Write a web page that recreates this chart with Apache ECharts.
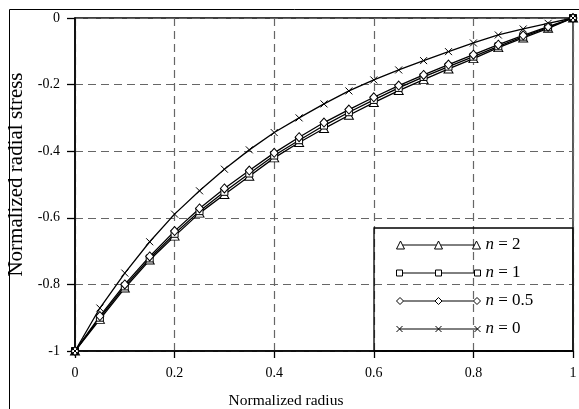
<!DOCTYPE html>
<html>
<head>
<meta charset="utf-8">
<script src="https://cdn.jsdelivr.net/npm/echarts@6/dist/echarts.min.js"></script>
<style>
html,body{margin:0;padding:0;background:#fff;}
#chart{width:579px;height:409px;}
</style>
</head>
<body>
<div id="chart"></div>
<script>
// Normalized radius (x)
var radius = [0, 0.05, 0.1, 0.15, 0.2, 0.25, 0.3, 0.35, 0.4, 0.45, 0.5, 0.55, 0.6, 0.65, 0.7, 0.75, 0.8, 0.85, 0.9, 0.95, 1];
// Normalized radial stress for each n
var stressN2  = [-1, -0.905, -0.811, -0.727, -0.655, -0.586, -0.530, -0.475, -0.420, -0.374, -0.332, -0.292, -0.254, -0.218, -0.185, -0.153, -0.122, -0.089, -0.060, -0.031, 0];
var stressN1  = [-1, -0.900, -0.806, -0.722, -0.648, -0.580, -0.522, -0.467, -0.413, -0.367, -0.323, -0.283, -0.246, -0.210, -0.177, -0.146, -0.116, -0.085, -0.056, -0.028, 0];
var stressN05 = [-1, -0.895, -0.800, -0.716, -0.640, -0.572, -0.512, -0.458, -0.405, -0.358, -0.314, -0.275, -0.238, -0.203, -0.171, -0.140, -0.110, -0.080, -0.052, -0.026, 0];
var stressN0  = [-1, -0.871, -0.766, -0.672, -0.589, -0.519, -0.454, -0.396, -0.344, -0.300, -0.258, -0.219, -0.186, -0.156, -0.128, -0.101, -0.075, -0.051, -0.033, -0.016, 0];
var seriesNames = ['n = 2', 'n = 1', 'n = 0.5', 'n = 0'];
var xTicks = [0, 0.2, 0.4, 0.6, 0.8, 1];
var yTicks = [-1, -0.8, -0.6, -0.4, -0.2, 0];

function pairs(ys) { return radius.map(function (x, i) { return [x, ys[i]]; }); }

var FONT = 'Liberation Serif';
var crossPath = 'path://M0,0L10,10M10,0L0,10';

// legend icons: line with three markers
function triIcon() {
  var cs = [4, 42, 80], p = '';
  cs.forEach(function (c) { p += 'M' + c + ',0.5L' + (c + 4) + ',8.5L' + (c - 4) + ',8.5Z'; });
  p += 'M' + (cs[0] + 2.3) + ',4.5L' + (cs[1] - 2.3) + ',4.5M' + (cs[1] + 2.3) + ',4.5L' + (cs[2] - 2.3) + ',4.5';
  return 'path://' + p;
}
function sqIcon() {
  var cs = [3, 42, 81], p = '';
  cs.forEach(function (c) { p += 'M' + (c - 3) + ',1.5L' + (c + 3) + ',1.5L' + (c + 3) + ',7.5L' + (c - 3) + ',7.5Z'; });
  p += 'M6,4.5L39,4.5M45,4.5L78,4.5';
  return 'path://' + p;
}
function diaIcon() {
  var cs = [3.5, 42, 80.5], p = '';
  cs.forEach(function (c) { p += 'M' + c + ',1L' + (c + 3.5) + ',4.5L' + c + ',8L' + (c - 3.5) + ',4.5Z'; });
  p += 'M7,4.5L38.5,4.5M45.5,4.5L77,4.5';
  return 'path://' + p;
}
function crossIcon() {
  var cs = [3, 42, 81], p = '';
  cs.forEach(function (c) { p += 'M' + (c - 3) + ',1.5L' + (c + 3) + ',7.5M' + (c + 3) + ',1.5L' + (c - 3) + ',7.5'; });
  p += 'M3,4.5L81,4.5';
  return 'path://' + p;
}

function mkSeries(name, data, symbol, size) {
  return {
    name: name,
    type: 'line',
    data: pairs(data),
    symbol: symbol,
    symbolSize: size,
    showAllSymbol: true,
    lineStyle: { color: '#000', width: 1.3 },
    itemStyle: { color: '#fff', borderColor: '#000', borderWidth: 1 },
    emphasis: { disabled: true },
    z: 3
  };
}

var chart = echarts.init(document.getElementById('chart'), null, { renderer: 'canvas' });
chart.setOption({
  animation: false,
  backgroundColor: '#fff',
  textStyle: { fontFamily: FONT },
  grid: { left: 75, right: 6, top: 18, bottom: 58, containLabel: false, outerBoundsMode: 'none',
    show: true, borderColor: '#000', borderWidth: 1.3, backgroundColor: 'transparent' },
  xAxis: {
    type: 'value', min: 0, max: 1, interval: 0.2,
    name: 'Normalized radius', nameLocation: 'middle', nameGap: 42,
    nameTextStyle: { fontFamily: FONT, fontSize: 15.5, color: '#000', padding: [0, 76, 0, 0] },
    axisLine: { show: true, onZero: false, lineStyle: { color: '#000', width: 1.6 } },
    axisTick: { show: true, inside: false, length: 7, lineStyle: { color: '#000', width: 1.3 } },
    axisLabel: { fontFamily: FONT, fontSize: 14, color: '#000', margin: 15,
      formatter: function (v) { return xTicks.indexOf(Math.round(v * 10) / 10) >= 0 ? String(Math.round(v * 10) / 10) : ''; } },
    splitLine: { show: true, lineStyle: { color: '#666', width: 1.2, type: [8, 5] } }
  },
  yAxis: {
    type: 'value', min: -1, max: 0, interval: 0.2,
    name: 'Normalized radial stress', nameLocation: 'middle', nameGap: 46, nameRotate: 90,
    nameTextStyle: { fontFamily: FONT, fontSize: 21, color: '#000', padding: [0, 0, 0, 20] },
    axisLine: { show: true, onZero: false, lineStyle: { color: '#000', width: 1.6 } },
    axisTick: { show: true, inside: false, length: 8, lineStyle: { color: '#000', width: 1.3 } },
    axisLabel: { fontFamily: FONT, fontSize: 14, color: '#000', margin: 15,
      formatter: function (v) { var r = Math.round(v * 10) / 10; return yTicks.indexOf(r) >= 0 ? String(r) : ''; } },
    splitLine: { show: true, lineStyle: { color: '#666', width: 1.2, type: [8, 5] } }
  },
  legend: {
    orient: 'vertical',
    left: 396, top: 236,
    padding: 0,
    itemWidth: 84, itemHeight: 9, itemGap: 10,
    symbolKeepAspect: true,
    selectedMode: false,
    itemStyle: { color: '#fff', borderColor: '#000', borderWidth: 1 },
    textStyle: { fontFamily: FONT, fontSize: 17, color: '#000', lineHeight: 18,
      rich: { i: { fontFamily: FONT, fontSize: 17, fontStyle: 'italic', color: '#000', lineHeight: 18 } } },
    formatter: function (name) { return '{i|n}' + name.slice(1); },
    data: [
      { name: seriesNames[0], icon: triIcon() },
      { name: seriesNames[1], icon: sqIcon() },
      { name: seriesNames[2], icon: diaIcon() },
      { name: seriesNames[3], icon: crossIcon() }
    ]
  },
  graphic: [
    { type: 'rect', left: 7, top: 7, shape: { x: 0, y: 0, width: 575, height: 410 }, style: { fill: 'none', stroke: '#000', lineWidth: 1 }, silent: true, z: -1 },
    { type: 'rect', shape: { x: 374, y: 228, width: 199, height: 123 }, style: { fill: 'none', stroke: '#000', lineWidth: 1.3 }, silent: true, z: 10 }
  ],
  series: [
    mkSeries(seriesNames[0], stressN2, 'triangle', [9, 8]),
    mkSeries(seriesNames[1], stressN1, 'rect', 7),
    mkSeries(seriesNames[2], stressN05, 'diamond', [8, 9]),
    mkSeries(seriesNames[3], stressN0, crossPath, 7)
  ]
});
</script>
</body>
</html>
